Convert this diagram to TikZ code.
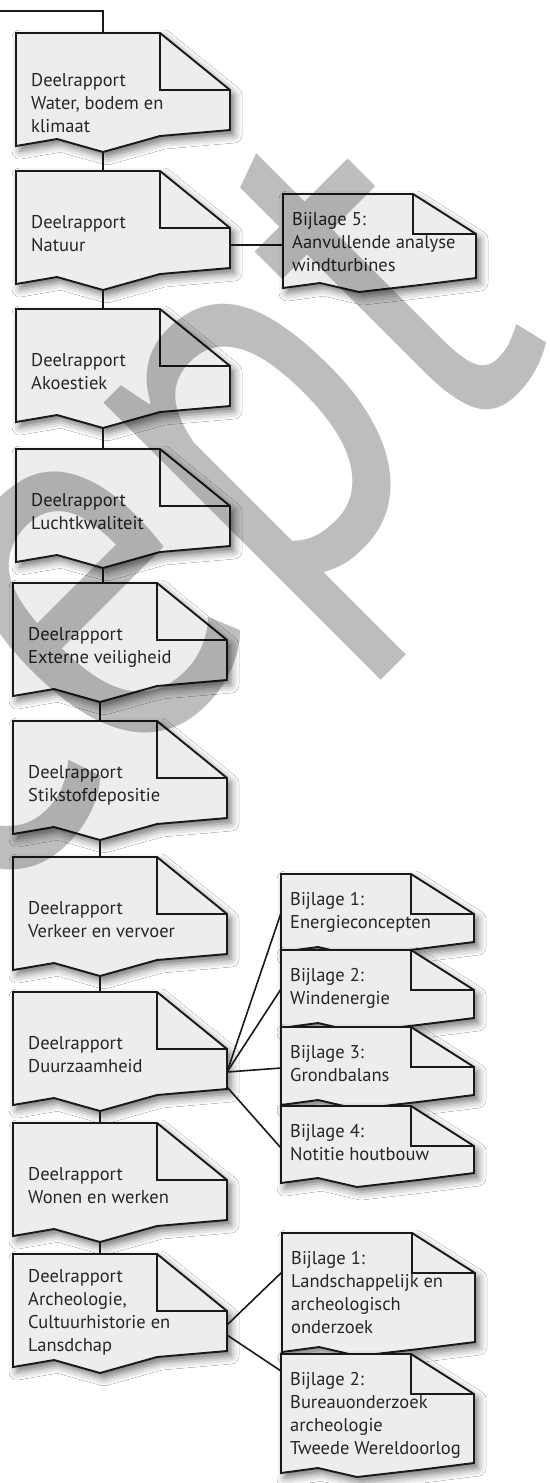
\documentclass[tikz,border=0pt]{standalone}
\usepackage{fontspec}
\setmainfont{PT Sans}
\usetikzlibrary{shadows.blur}

\newcommand{\deelrapport}[4]{%
  \node[pagebox, minimum width=214, minimum height=97] (#1) at (#2) {};
  \filldraw[page] (#1.north west) -- ++(144,0) -- ++(70,57) -- (#1.south east)
    -- ++(-70,6) -- ++(-57,16) -- ++(-46,-13) -- ++(-41,7) -- cycle;
  \draw[fold] ([xshift=144]#1.north west) |- ++(70,57);
  \coordinate (#1-tip) at ([shift={(87,119)}]#1.north west);
  \node[pagetext] (#1-text) at ([shift={(15,#3)}]#1.north west) {#4};
}
\newcommand{\bijlage}[4]{%
  \node[pagebox, minimum width=193, minimum height=#3] (#1) at (#2) {};
  \filldraw[page] (#1.north west) -- ++(130,0) -- ++(63,40) -- (#1.south east)
    -- ++(-56,7) -- ++(-61,7) -- ++(-39,-9) -- ++(-37,5) -- cycle;
  \draw[fold] ([xshift=130]#1.north west) |- ++(63,40);
  \node[pagetext] (#1-text) at ([shift={(9,18)}]#1.north west) {#4};
}

\begin{document}
\begin{tikzpicture}[x=1pt, y=-1pt,
    pagebox/.style={draw=none, inner sep=0, outer sep=0, anchor=north west},
    page/.style={draw=black!90, line width=1.9pt, fill=black!7,
      blur shadow={shadow xshift=4pt, shadow yshift=-5pt, shadow blur radius=8pt, shadow opacity=55}},
    fold/.style={draw=black!90, line width=1.9pt},
    pagetext/.style={anchor=north west, inner sep=0, align=left, text=black!85,
      font=\fontsize{18.5}{23}\selectfont},
    link/.style={draw=black!90, line width=1.6pt},
    stamp/.style={inner sep=0, text=black!26, font=\fontsize{560}{560}\selectfont}]

  \useasboundingbox[fill=white] (0,0) rectangle (549,1483);

  \deelrapport{water}{16,33}{40}{Deelrapport\\Water, bodem en\\klimaat}
  \deelrapport{natuur}{16,171}{44}{Deelrapport\\Natuur}
  \deelrapport{akoes}{16,309}{44}{Deelrapport\\Akoestiek}
  \deelrapport{lucht}{16,449}{44}{Deelrapport\\Luchtkwaliteit}
  \deelrapport{extern}{13,583}{44}{Deelrapport\\Externe veiligheid}
  \deelrapport{stik}{13,721}{44}{Deelrapport\\Stikstofdepositie}
  \deelrapport{verkeer}{13,857}{44}{Deelrapport\\Verkeer en vervoer}
  \deelrapport{duurz}{13,992}{44}{Deelrapport\\Duurzaamheid}
  \deelrapport{wonen}{13,1123}{44}{Deelrapport\\Wonen en werken}
  \deelrapport{archeo}{13,1254}{15}{Deelrapport\\Archeologie,\\Cultuurhistorie en\\Lansdchap}

  \bijlage{wind}{283,194}{84}{Bijlage 5:\\Aanvullende analyse\\windturbines}
  \bijlage{energie}{281,874}{68}{Bijlage 1:\\Energieconcepten}
  \bijlage{windenergie}{281,950}{68}{Bijlage 2:\\Windenergie}
  \bijlage{grond}{281,1027}{68}{Bijlage 3:\\Grondbalans}
  \bijlage{hout}{281,1106}{67}{Bijlage 4:\\Notitie houtbouw}
  \bijlage{landschap}{282,1233}{109}{Bijlage 1:\\Landschappelijk en\\archeologisch\\onderzoek}
  \bijlage{bureau}{281,1354}{109}{Bijlage 2:\\Bureauonderzoek\\archeologie\\Tweede Wereldoorlog}

  \coordinate (begin) at (0,11);
  \draw[link] (begin) -| (water-tip |- water.north);
  \draw[link] (water-tip) -- (water-tip |- natuur.north);
  \draw[link] (natuur-tip) -- (natuur-tip |- akoes.north);
  \draw[link] (akoes-tip) -- (akoes-tip |- lucht.north);
  \draw[link] (lucht-tip) -- (lucht-tip |- extern.north);
  \draw[link] (extern-tip) -- (extern-tip |- stik.north);
  \draw[link] (stik-tip) -- (stik-tip |- verkeer.north);
  \draw[link] (verkeer-tip) -- (verkeer-tip |- duurz.north);
  \draw[link] (duurz-tip) -- (duurz-tip |- wonen.north);
  \draw[link] (wonen-tip) -- (wonen-tip |- archeo.north);

  \draw[link] ([yshift=-74]natuur.north east) -- ([yshift=-51]wind.north west);

  \draw[link] ([yshift=-80]duurz.north east) -- ([yshift=-39]energie.north west);
  \draw[link] ([yshift=-80]duurz.north east) -- ([yshift=-39]windenergie.north west);
  \draw[link] ([yshift=-80]duurz.north east) -- ([yshift=-41]grond.north west);
  \draw[link] ([yshift=-95]duurz.north east) -- ([yshift=-42]hout.north west);

  \draw[link] ([yshift=-71]archeo.north east) -- ([yshift=-39]landschap.north west);
  \draw[link] ([yshift=-81]archeo.north east) -- ([yshift=-17]bureau.north west);

  \begin{scope}[blend mode=multiply, shift={(-89,789)}, rotate=45, xscale=0.8, transform shape]
    \node[stamp] (concept) at (0,0) {Concept};
  \end{scope}

\end{tikzpicture}
\end{document}
